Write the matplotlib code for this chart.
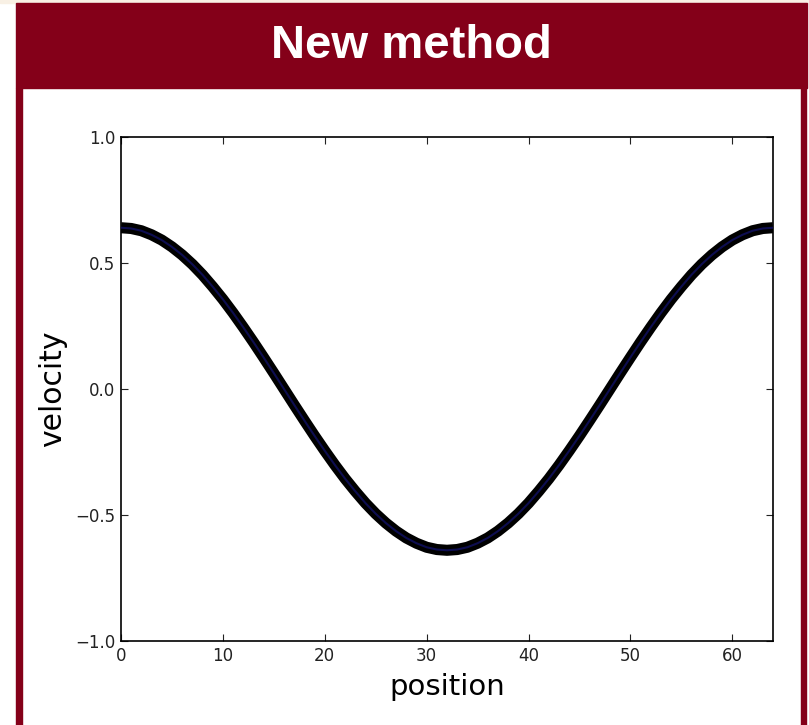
import matplotlib
matplotlib.use("Agg")
import matplotlib.pyplot as plt
from matplotlib.patches import Rectangle

# velocity sampled at each integer position along the domain
position = list(range(0, 65))
velocity = [0.640, 0.637, 0.628, 0.612, 0.591, 0.564, 0.532, 0.495, 0.453, 0.406,
            0.356, 0.302, 0.245, 0.186, 0.125, 0.063, 0.000, -0.063, -0.125, -0.186,
            -0.245, -0.302, -0.356, -0.406, -0.453, -0.495, -0.532, -0.564, -0.591, -0.612,
            -0.628, -0.637, -0.640, -0.637, -0.628, -0.612, -0.591, -0.564, -0.532, -0.495,
            -0.453, -0.406, -0.356, -0.302, -0.245, -0.186, -0.125, -0.063, 0.000, 0.063,
            0.125, 0.186, 0.245, 0.302, 0.356, 0.406, 0.453, 0.495, 0.532, 0.564,
            0.591, 0.612, 0.628, 0.637, 0.640]

title = "New method"
xticks = [0, 10, 20, 30, 40, 50, 60]
yticks = [-1.0, -0.5, 0.0, 0.5, 1.0]

W, H = 809, 725
red = "#840019"

fig = plt.figure(figsize=(W / 100, H / 100), dpi=100)
fig.patch.set_facecolor("white")

def px(x, y, w, h):
    # pixel box (from top-left) -> figure fraction rect
    return (x / W, 1 - (y + h) / H, w / W, h / H)

# slide frame: beige strip, header bar, side borders
for (bx, by, bw, bh), c in [((0, 0, W, 3), "#f8f0e4"),
                            ((16, 3, 791, 85), red),
                            ((16, 88, 6, H - 88), red),
                            ((801, 88, 5, H - 88), red)]:
    x0, y0, w0, h0 = px(bx, by, bw, bh)
    fig.patches.append(Rectangle((x0, y0), w0, h0, transform=fig.transFigure, color=c, zorder=0))

fig.text(411 / W, 1 - 46 / H, title, color="white", fontsize=34, fontweight="bold",
         family="Liberation Sans", ha="center", va="center")

ax = fig.add_axes(px(121, 137, 652, 504))
ax.plot(position, velocity, color="black", lw=8, solid_capstyle="butt", zorder=2)
ax.plot(position, velocity, color="#1a1aa0", lw=1.5, alpha=0.5, zorder=3)

ax.set_xlim(0, 64)
ax.set_ylim(-1, 1)
ax.set_xticks(xticks)
ax.set_yticks(yticks)
ax.set_yticklabels(["\u22121.0", "\u22120.5", "0.0", "0.5", "1.0"])
ax.tick_params(direction="in", top=True, right=True, length=5, width=0.8,
               labelsize=12, colors="#222222", pad=4)
for s in ax.spines.values():
    s.set_linewidth(1.2)
ax.set_xlabel("position", fontsize=21, labelpad=6)
ax.set_ylabel("velocity", fontsize=21.5, labelpad=6)

fig.savefig("out.png", dpi=100)
